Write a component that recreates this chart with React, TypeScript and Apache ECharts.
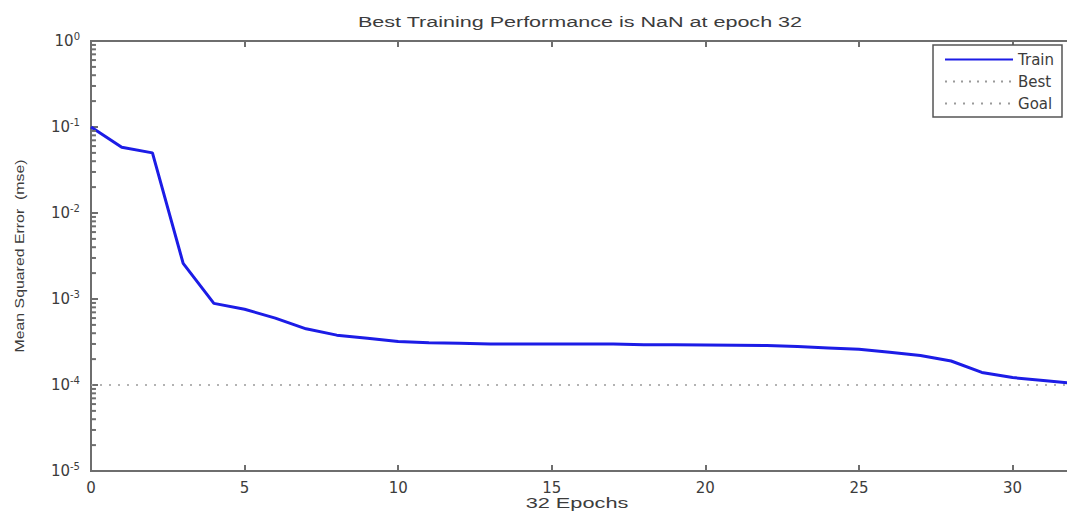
import React, { useEffect, useRef } from "react";
import * as echarts from "echarts";

const epochs = [0,1,2,3,4,5,6,7,8,9,10,11,12,13,14,15,16,17,18,19,20,21,22,23,24,25,26,27,28,29,30,31,32];
const trainMse = [0.1,0.058,0.05,0.0026,0.00089,0.00076,0.0006,0.00045,0.00038,0.00035,0.00032,0.00031,0.000305,0.0003,0.0003,0.0003,0.0003,0.0003,0.000293,0.000293,0.000292,0.00029,0.000288,0.00028,0.00027,0.00026,0.00024,0.00022,0.00019,0.00014,0.000122,0.000113,0.000104];
const goalValue = 0.0001;
const decades = [-5,-4,-3,-2,-1];
const minorMultipliers = [2,3,4,5,6,7,8,9];
const titleText = "Best Training Performance is NaN at epoch 32";
const xName = "32 Epochs";
const yName = "Mean Squared Error  (mse)";

const minorTickValues: number[][] = [];
decades.forEach((d) => minorMultipliers.forEach((m) => minorTickValues.push([0.08, m * Math.pow(10, d)])));

export default function App() {
  const ref = useRef<HTMLDivElement>(null);
  useEffect(() => {
    const chart = echarts.init(ref.current!, null, { renderer: "svg" });
    const font = "'Liberation Sans', Arial, sans-serif";
    const tickFont = "'DejaVu Sans', sans-serif";
    const axisColor = "#6e6e6e";
    const textColor = "#3c3c3c";
    chart.setOption({
      animation: false,
      backgroundColor: "#ffffff",
      textStyle: { fontFamily: font },
      graphic: [
        {
          type: "text",
          x: 580,
          y: 22,
          scaleX: 1.54,
          style: { text: titleText, fill: textColor, font: `14px ${font}`, textAlign: "center", textVerticalAlign: "middle" },
        },
        {
          type: "text",
          x: 577,
          y: 503,
          scaleX: 1.45,
          style: { text: xName, fill: textColor, font: `15px ${font}`, textAlign: "center", textVerticalAlign: "middle" },
        },
        {
          type: "text",
          x: 20,
          y: 256,
          rotation: Math.PI / 2,
          scaleX: 1.22,
          style: { text: yName, fill: textColor, font: `13px ${font}`, textAlign: "center", textVerticalAlign: "middle" },
        },
      ],
      legend: {
        orient: "vertical",
        right: 5,
        top: 45,
        borderColor: "#555",
        borderWidth: 1.5,
        backgroundColor: "#fff",
        padding: [7, 8, 6, 11],
        itemGap: 7,
        itemWidth: 68,
        itemHeight: 14,
        itemStyle: { opacity: 0 },
        textStyle: { fontSize: 15, color: textColor, fontFamily: tickFont },
        data: ["Train", "Best", "Goal"],
      },
      grid: { left: 91, top: 41, width: 983, height: 430, show: true, borderColor: axisColor, borderWidth: 2, backgroundColor: "transparent", outerBoundsMode: "none", containLabel: false },
      xAxis: [
        {
          type: "value",
          min: 0,
          max: 32,
          interval: 5,
          axisLine: { lineStyle: { color: axisColor, width: 2 } },
          axisTick: { inside: true, length: 6, lineStyle: { color: axisColor, width: 2 } },
          axisLabel: { showMaxLabel: false, fontSize: 15, color: textColor, margin: 9, fontFamily: tickFont },
          splitLine: { show: false },
        },
        {
          type: "value",
          position: "top",
          min: 0,
          max: 32,
          interval: 5,
          axisLine: { show: true, lineStyle: { color: axisColor, width: 2 } },
          axisTick: { inside: true, length: 6, lineStyle: { color: axisColor, width: 2 } },
          axisLabel: { show: false },
          splitLine: { show: false },
        },
      ],
      yAxis: {
        type: "log",
        logBase: 10,
        min: 1e-5,
        max: 1,
        interval: 1,
        axisLine: { lineStyle: { color: axisColor, width: 2 } },
        axisTick: { inside: true, length: 7, lineStyle: { color: axisColor, width: 2 } },
        splitLine: { show: false },
        axisLabel: {
          margin: 11,
          color: textColor,
          formatter: (v: number) => `{b|10}{s|${Math.round(Math.log10(v))}}`,
          rich: {
            b: { fontSize: 15, color: textColor, fontFamily: tickFont },
            s: { fontSize: 10, color: textColor, fontFamily: tickFont, verticalAlign: "top", padding: [0, 0, 10, 0] },
          },
        },
      },
      series: [
        {
          name: "Train",
          type: "line",
          data: epochs.map((e, i) => [e, trainMse[i]]),
          showSymbol: false,
          symbol: "none",
          lineStyle: { color: "#1c1ce6", width: 3 },
          itemStyle: { color: "#1c1ce6" },
          z: 5,
        },
        {
          name: "Best",
          type: "line",
          data: [],
          symbol: "none",
          lineStyle: { color: "#9a9a9a", width: 1.5, type: [2, 6] },
          itemStyle: { color: "#9a9a9a" },
        },
        {
          name: "Goal",
          type: "line",
          data: [[epochs[0], goalValue], [epochs[epochs.length - 1], goalValue]],
          symbol: "none",
          lineStyle: { color: "#9a9a9a", width: 1.5, type: [2, 7] },
          itemStyle: { color: "#9a9a9a" },
          z: 3,
        },
        {
          name: "minorTicks",
          type: "line",
          data: minorTickValues,
          silent: true,
          clip: false,
          showSymbol: true,
          symbol: "rect",
          symbolSize: [5, 2],
          lineStyle: { width: 0, opacity: 0 },
          itemStyle: { color: axisColor },
          z: 6,
        },
      ],
    });
    return () => chart.dispose();
  }, []);
  return <div ref={ref} style={{ position: "fixed", left: 0, top: 0, width: 1067, height: 513 }} />;
}
